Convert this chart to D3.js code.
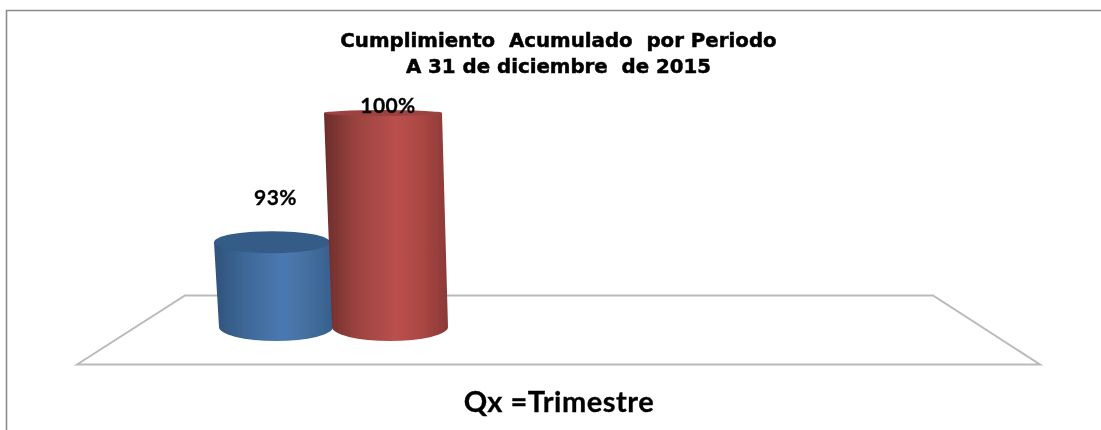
<!DOCTYPE html>
<html>
<head>
<meta charset="utf-8">
<script src="https://cdn.jsdelivr.net/npm/d3@7"></script>
<style>
html, body { margin: 0; padding: 0; background: #fff; overflow: hidden; }
svg { display: block; }
</style>
</head>
<body>
<svg id="chart"></svg>
<script>
// values
var periods = ["P1", "P2"];
var values = [93, 100];
var labels = ["93%", "100%"];
var titleLines = ["Cumplimiento  Acumulado  por Periodo", "A 31 de diciembre  de 2015"];
var footer = "Qx =Trimestre";
var colors = [
    { top: "#345b87", stops: ["#2f5379", "#3d6796", "#4a79b2", "#44709f", "#375f8c"] },
    { top: "#9c4340", stops: ["#6b2d2b", "#9a423f", "#ba504d", "#ab4744", "#8a3a37"] }
];

var width = 1101;
var height = 430;

var root = d3.select("#chart")
    .attr("width", width)
    .attr("height", height);

var defs = root.append("defs");

// the reference is a resampled image, everything in it is a bit soft
defs.append("filter")
    .attr("id", "soft")
    .attr("filterUnits", "userSpaceOnUse")
    .attr("x", 0).attr("y", 0)
    .attr("width", width).attr("height", height)
    .append("feGaussianBlur")
    .attr("stdDeviation", 0.45);

var svg = root.append("g").attr("filter", "url(#soft)");

// the chart is a fake 3d one, value axis does not start at zero
var y = d3.scaleLinear().domain([88.4, 100]).range([327, 113]);
var xTop = d3.scalePoint().domain(periods).range([272, 383]);
var xBottom = d3.scalePoint().domain(periods).range([276, 390]);
var rx = d3.scalePoint().domain(periods).range([58, 59]);
// ellipses get flatter the nearer they are to eye level
var ry = d3.scaleLinear().domain([113, 242, 327]).range([3, 11, 14]);

colors.forEach(function(c, i) {
    var grad = defs.append("linearGradient")
        .attr("id", "cyl" + i)
        .attr("x1", 0).attr("x2", 1).attr("y1", 0).attr("y2", 0);
    var offs = [0, 0.25, 0.58, 0.78, 1];
    c.stops.forEach(function(s, k) {
        grad.append("stop").attr("offset", offs[k]).attr("stop-color", s);
    });
});

// frame, only left and top edges are in the crop
svg.append("path")
    .attr("d", "M6.5,430V10.5H1101")
    .attr("fill", "none")
    .attr("stroke", "#8c8c8c")
    .attr("stroke-width", 1.6);

// floor
var floorBack = 295.5, floorFront = 364.5;
svg.append("path")
    .attr("d", "M77," + floorFront + "L185," + floorBack + "H933L1040," + floorFront + "Z")
    .attr("fill", "#fff")
    .attr("stroke", "#bababa")
    .attr("stroke-width", 2);

// cylinders
var bars = svg.selectAll("g.bar")
    .data(periods)
    .enter()
    .append("g")
    .attr("class", "bar");

bars.append("path")
    .attr("fill", function(d, i) { return "url(#cyl" + i + ")"; })
    .attr("d", function(d, i) {
        var yT = y(values[i]);
        var yB = y(y.domain()[0]);
        var r = rx(d);
        var bottomRy = ry(yB);
        return "M" + (xTop(d) - r) + "," + yT +
            "L" + (xBottom(d) - r + 1) + "," + yB +
            "A" + (r - 1) + "," + bottomRy + " 0 0 0 " + (xBottom(d) + r - 1) + "," + yB +
            "L" + (xTop(d) + r) + "," + yT +
            "Z";
    });

bars.append("ellipse")
    .attr("cx", function(d) { return xTop(d); })
    .attr("cy", function(d, i) { return y(values[i]); })
    .attr("rx", function(d) { return rx(d); })
    .attr("ry", function(d, i) { return ry(y(values[i])); })
    .attr("fill", function(d, i) { return colors[i].top; });

// data labels
svg.selectAll("text.lbl")
    .data(labels)
    .enter()
    .append("text")
    .attr("class", "lbl")
    .attr("x", function(d, i) { return xTop(periods[i]) + (i == 0 ? 3.5 : 5); })
    .attr("y", function(d, i) { return y(values[i]) - (i == 0 ? 37 : 0); })
    .attr("text-anchor", "middle")
    .attr("font-family", "Lato")
    .attr("font-weight", "bold")
    .attr("font-size", 21)
    .attr("letter-spacing", 0.4)
    .attr("stroke", "#000")
    .attr("stroke-width", 0.3)
    .attr("fill", "#000")
    .text(function(d) { return d; });

// title
svg.selectAll("text.title")
    .data(titleLines)
    .enter()
    .append("text")
    .attr("class", "title")
    .attr("x", 558.5)
    .attr("y", function(d, i) { return 47 + i * 26; })
    .attr("text-anchor", "middle")
    .attr("font-family", "DejaVu Sans")
    .attr("font-weight", "bold")
    .attr("font-size", 19.8)
    .attr("stroke", "#000")
    .attr("stroke-width", 0.5)
    .attr("xml:space", "preserve")
    .style("white-space", "pre")
    .text(function(d) { return d; });

svg.append("text")
    .attr("x", 559)
    .attr("y", 412)
    .attr("text-anchor", "middle")
    .attr("font-family", "Lato")
    .attr("font-weight", "bold")
    .attr("font-size", 29)
    .attr("letter-spacing", 0.5)
    .attr("stroke", "#000")
    .attr("stroke-width", 0.3)
    .text(footer);
</script>
</body>
</html>
